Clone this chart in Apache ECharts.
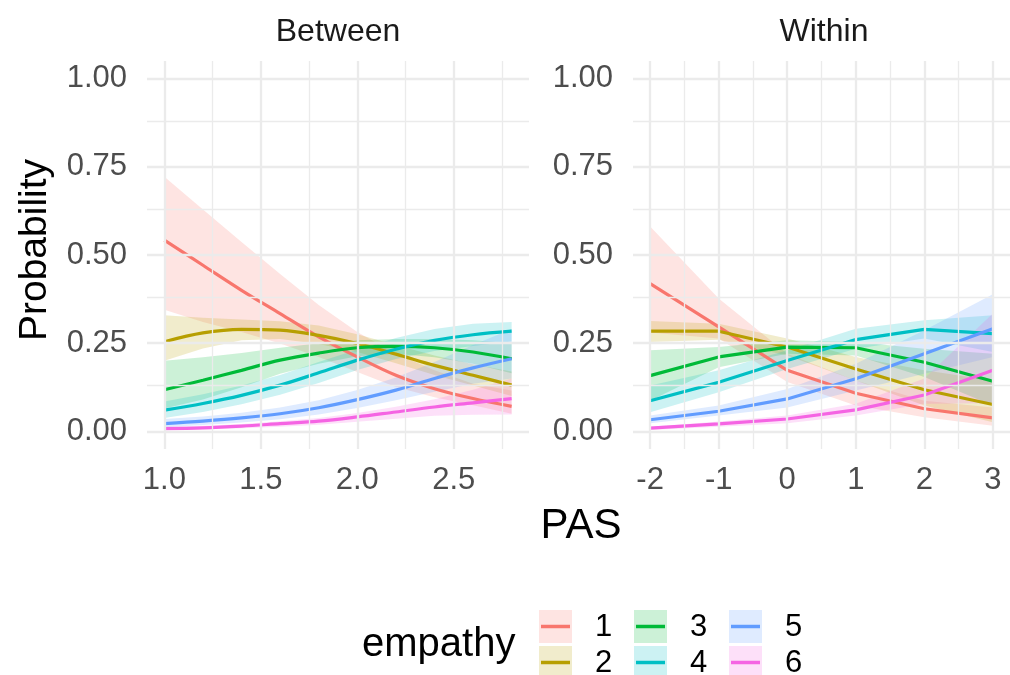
<!DOCTYPE html>
<html>
<head>
<meta charset="utf-8">
<script src="https://cdn.jsdelivr.net/npm/echarts@6/dist/echarts.min.js"></script>
<style>html,body{margin:0;padding:0;background:#fff}#c{width:1010px;height:675px}</style>
</head>
<body>
<div id="c"></div>
<script>
// ---- data ----
const groups = ['1','2','3','4','5','6'];
const colors = ['#F8766D','#B79F00','#00BA38','#00BFC4','#619CFF','#F564E3'];
const panelTitles = ['Between','Within'];
const xTicksB = [1.0,1.5,2.0,2.5];
const xMinorB = [1.25,1.75,2.25,2.75];
const xTicksW = [-2,-1,0,1,2,3];
const xMinorW = [-1.5,-0.5,0.5,1.5,2.5];
const yTicks = [0,0.25,0.5,0.75,1.0];
const yMinor = [0.125,0.375,0.625,0.875];

const xB = [1.0,1.2,1.4,1.6,1.8,2.0,2.2,2.4,2.6,2.8];
const b1   = [.542,.471,.400,.334,.268,.211,.159,.121,.093,.071];
const b1lo = [.345,.310,.282,.249,.211,.168,.126,.097,.074,.050];
const b1hi = [.722,.629,.537,.446,.358,.282,.220,.173,.135,.116];
const b2   = [.254,.279,.289,.287,.272,.249,.219,.187,.159,.131];
const b2lo = [.200,.235,.258,.262,.248,.225,.193,.160,.130,.100];
const b2hi = [.329,.322,.317,.312,.300,.275,.245,.215,.190,.170];
const b3   = [.118,.145,.173,.202,.222,.237,.241,.237,.225,.206];
const b3lo = [.065,.090,.125,.163,.192,.213,.220,.210,.192,.165];
const b3hi = [.200,.210,.222,.237,.250,.258,.262,.262,.258,.250];
const b4   = [.060,.079,.102,.131,.166,.202,.233,.258,.274,.284];
const b4lo = [.038,.055,.077,.104,.137,.174,.205,.228,.242,.255];
const b4hi = [.085,.105,.130,.160,.197,.232,.265,.290,.305,.310];
const b5   = [.022,.029,.038,.050,.067,.090,.117,.150,.180,.206];
const b5lo = [.012,.018,.025,.034,.048,.066,.088,.112,.135,.150];
const b5hi = [.035,.042,.053,.068,.088,.117,.153,.197,.245,.290];
const b6   = [.008,.010,.015,.022,.029,.041,.055,.069,.081,.093];
const b6lo = [.004,.006,.009,.013,.019,.027,.036,.044,.047,.048];
const b6hi = [.013,.016,.021,.029,.038,.052,.070,.091,.118,.150];

const xW = [-2,-1,0,1,2,3];
const w1   = [.419,.296,.173,.108,.064,.038];
const w1lo = [.280,.263,.140,.073,.040,.016];
const w1hi = [.581,.377,.220,.144,.087,.068];
const w2   = [.284,.284,.239,.177,.118,.076];
const w2lo = [.253,.260,.215,.144,.073,.026];
const w2hi = [.313,.305,.263,.211,.173,.144];
const w3   = [.158,.211,.239,.237,.196,.142];
const w3lo = [.087,.182,.220,.215,.154,.073];
const w3hi = [.230,.239,.258,.253,.234,.220];
const w4   = [.087,.139,.201,.260,.289,.277];
const w4lo = [.054,.111,.177,.234,.263,.225];
const w4hi = [.130,.173,.230,.291,.315,.329];
const w5   = [.033,.057,.092,.149,.220,.291];
const w5lo = [.023,.045,.068,.116,.163,.211];
const w5hi = [.045,.073,.120,.192,.287,.389];
const w6   = [.009,.021,.035,.061,.103,.173];
const w6lo = [.004,.013,.023,.045,.078,.080];
const w6hi = [.013,.028,.045,.078,.150,.334];

const between = {x:xB, mid:[b1,b2,b3,b4,b5,b6], lo:[b1lo,b2lo,b3lo,b4lo,b5lo,b6lo], hi:[b1hi,b2hi,b3hi,b4hi,b5hi,b6hi]};
const within  = {x:xW, mid:[w1,w2,w3,w4,w5,w6], lo:[w1lo,w2lo,w3lo,w4lo,w5lo,w6lo], hi:[w1hi,w2hi,w3hi,w4hi,w5hi,w6hi]};

// ---- helpers ----
const FONT = '"Liberation Sans", Arial, sans-serif';
function hexA(hex, a){
  const n = parseInt(hex.slice(1),16);
  return 'rgba(' + ((n>>16)&255) + ',' + ((n>>8)&255) + ',' + (n&255) + ',' + a + ')';
}
function gridSeries(idx, xMaj, xMin){
  const GRID = '#EBEBEB';
  const minor = {width:1.3, color:GRID, type:'solid'};
  const major = {width:2.3, color:GRID, type:'solid'};
  const data = [];
  xMin.forEach(v=>data.push({xAxis:v, lineStyle:minor}));
  yMinor.forEach(v=>data.push({yAxis:v, lineStyle:minor}));
  xMaj.forEach(v=>data.push({xAxis:v, lineStyle:major}));
  yTicks.forEach(v=>data.push({yAxis:v, lineStyle:major}));
  return {type:'line', xAxisIndex:idx, yAxisIndex:idx, z:0, silent:true,
    data:[[xMaj[0],0]], showSymbol:false, lineStyle:{opacity:0},
    markLine:{silent:true, symbol:['none','none'], label:{show:false}, animation:false,
      lineStyle:{type:'solid', color:GRID},
      emphasis:{disabled:true}, data:data}};
}
function bandSeries(idx, panel, g){
  const xs = panel.x, lo = panel.lo[g], hi = panel.hi[g];
  return {type:'custom', xAxisIndex:idx, yAxisIndex:idx, z:1, silent:true,
    data: xs.map((x,i)=>[x, lo[i], hi[i]]),
    encode:{x:0, y:[1,2]},
    renderItem: function(params, api){
      if (params.dataIndex !== 0) return null;
      const pts = [];
      for (let i=0;i<xs.length;i++) pts.push(api.coord([xs[i], hi[i]]));
      for (let i=xs.length-1;i>=0;i--) pts.push(api.coord([xs[i], lo[i]]));
      return {type:'polygon', shape:{points:pts}, style:{fill:hexA(colors[g],0.2), stroke:null}};
    }};
}
function lineSeries(idx, panel, g, smooth){
  return {type:'line', name:groups[g], xAxisIndex:idx, yAxisIndex:idx, z:3, silent:true,
    data: panel.x.map((x,i)=>[x, panel.mid[g][i]]), showSymbol:false, smooth:smooth,
    lineStyle:{color:colors[g], width:3.2}, itemStyle:{color:colors[g]}};
}

const series = [];
series.push(gridSeries(0, xTicksB, xMinorB));
series.push(gridSeries(1, xTicksW, xMinorW));
for (let g=0; g<6; g++){ series.push(bandSeries(0, between, g)); series.push(bandSeries(1, within, g)); }
for (let g=0; g<6; g++){ series.push(lineSeries(0, between, g, 0.35)); series.push(lineSeries(1, within, g, false)); }

const axisLabelStyle = {fontFamily:FONT, fontSize:31, color:'#4D4D4D'};
function xAxis(idx, min, max, ticks, dec){
  return {type:'value', gridIndex:idx, min:min, max:max,
    axisLine:{show:false}, axisTick:{show:false}, splitLine:{show:false},
    axisLabel:Object.assign({customValues:ticks, margin:16, formatter:v=>v.toFixed(dec)}, axisLabelStyle)};
}
function yAxis(idx){
  return {type:'value', gridIndex:idx, min:-0.05, max:1.05,
    axisLine:{show:false}, axisTick:{show:false}, splitLine:{show:false},
    axisLabel:Object.assign({customValues:yTicks, margin:20, formatter:v=>v.toFixed(2)}, axisLabelStyle)};
}

// legend (drawn as graphic keys + text)
const legendEls = [];
legendEls.push({type:'text', style:{x:362, y:645, text:'empathy', font:'40px '+FONT, fill:'#000', textVerticalAlign:'middle'}});
const colX = [539, 634, 729], rowY = [610, 646], KEY = 33;
for (let g=0; g<6; g++){
  const c = Math.floor(g/2), r = g%2;
  const kx = colX[c], ky = rowY[r];
  legendEls.push({type:'rect', shape:{x:kx, y:ky, width:KEY, height:KEY}, style:{fill:hexA(colors[g],0.2)}});
  legendEls.push({type:'line', shape:{x1:kx+2, y1:ky+KEY/2, x2:kx+KEY-2, y2:ky+KEY/2}, style:{stroke:colors[g], lineWidth:3.5}});
  legendEls.push({type:'text', style:{x:kx+56, y:ky+KEY/2+1, text:groups[g], font:'31px '+FONT, fill:'#000', textVerticalAlign:'middle'}});
}

const option = {
  backgroundColor:'#fff',
  animation:false,
  grid:[
    {left:147, top:61, width:382, height:388},
    {left:633, top:61, width:382, height:388}
  ],
  xAxis:[ xAxis(0, 0.91, 2.89, xTicksB, 1), xAxis(1, -2.25, 3.25, xTicksW, 0) ],
  yAxis:[ yAxis(0), yAxis(1) ],
  series: series,
  graphic:[
    {type:'text', style:{x:338, y:32, text:panelTitles[0], font:'32px '+FONT, fill:'#1A1A1A', textAlign:'center', textVerticalAlign:'middle'}},
    {type:'text', style:{x:824, y:32, text:panelTitles[1], font:'32px '+FONT, fill:'#1A1A1A', textAlign:'center', textVerticalAlign:'middle'}},
    {type:'text', style:{x:581, y:526, text:'PAS', font:'42px '+FONT, fill:'#000', textAlign:'center', textVerticalAlign:'middle'}},
    {type:'text', x:35, y:250, rotation:Math.PI/2, style:{x:0, y:0, text:'Probability', font:'39px '+FONT, fill:'#000', textAlign:'center', textVerticalAlign:'middle'}}
  ].concat(legendEls)
};
const chart = echarts.init(document.getElementById('c'), null, {renderer:'canvas'});
chart.setOption(option);
</script>
</body>
</html>
